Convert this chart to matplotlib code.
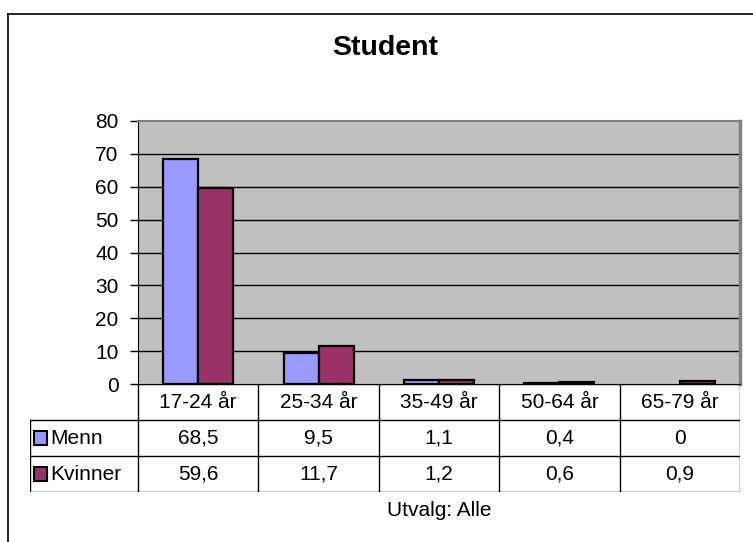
import numpy as np
import matplotlib
matplotlib.use("Agg")
import matplotlib.pyplot as plt
from matplotlib.patches import Rectangle
from matplotlib.lines import Line2D

categories = ["17-24 år", "25-34 år", "35-49 år", "50-64 år", "65-79 år"]
menn = [68.5, 9.5, 1.1, 0.4, 0.0]
kvinner = [59.6, 11.7, 1.2, 0.6, 0.9]
series_names = ["Menn", "Kvinner"]
colors = ["#9999FF", "#993366"]

plt.rcParams["font.family"] = ["Liberation Sans", "DejaVu Sans"]

W, H = 753, 542
fig = plt.figure(figsize=(W / 100, H / 100), dpi=100)


def box(x0, y0, x1, y1):
    # pixel box (top-left origin) -> figure fraction
    return [x0 / W, 1 - y1 / H, (x1 - x0) / W, (y1 - y0) / H]


# outer chart frame (cut off on the right and bottom)
fig.add_artist(Line2D([8 / W, 8 / W], [0, 1 - 14 / H], color="black", lw=1.2))
fig.add_artist(Line2D([8 / W, 1], [1 - 14 / H, 1 - 14 / H], color="black", lw=1.2))

fig.text(385 / W, 1 - 48 / H, "Student", ha="center", va="center",
         fontsize=20.5, fontweight="bold")

FS = 15

# plot area
PL, PR, PT, PB = 138, 740, 121, 384
ax = fig.add_axes(box(PL, PT, PR, PB))
ax.set_facecolor("#C0C0C0")
x = np.arange(len(categories))
w = 0.29
for off, vals, col in [(-w / 2, menn, colors[0]), (w / 2, kvinner, colors[1])]:
    lws = [1.6 if v > 0 else 0 for v in vals]
    ax.bar(x + off, vals, w, color=col, edgecolor="black", linewidth=lws, zorder=3)
ax.set_xlim(-0.5, len(categories) - 0.5)
ax.set_ylim(0, 80)
ax.set_yticks(range(0, 81, 10))
ax.tick_params(axis="y", length=6, width=1, pad=8, labelsize=FS)
ax.set_xticks([])
for v in range(10, 80, 10):
    ax.axhline(v, color="black", lw=1, zorder=1)
ax.spines["left"].set_color("black")
ax.spines["bottom"].set_color("black")
ax.spines["top"].set_color("#808080")
ax.spines["top"].set_linewidth(1.5)
ax.spines["right"].set_color("#808080")
ax.spines["right"].set_linewidth(2.5)

# data table below the plot area
TL, TB = 30, 492
n = len(categories)
colw = (PR - PL) / n
left = -0.5 - (PL - TL) / colw
tax = fig.add_axes(box(TL, PB, PR, TB))
tax.set_xlim(left, n - 0.5)
tax.set_ylim(3, 0)
tax.axis("off")
lk = dict(color="black", lw=1)
tax.plot([-0.5, n - 0.5], [0, 0], **lk)
for r in (1, 2, 3):
    tax.plot([left, n - 0.5], [r, r], **lk)
tax.plot([left, left], [1, 3], **lk)
for i in range(n + 1):
    tax.plot([i - 0.5, i - 0.5], [0, 3], **lk)
for i, c in enumerate(categories):
    tax.text(i, 0.5, c, ha="center", va="center", fontsize=FS)
for r, (name, vals, col) in enumerate(zip(series_names, [menn, kvinner], colors)):
    y = r + 1.5
    key_w = 13 / colw
    kx = left + 4 / colw
    tax.add_patch(Rectangle((kx, y - 0.19), key_w, 0.38, facecolor=col,
                            edgecolor="black", lw=1.5, clip_on=False))
    tax.text(kx + key_w + 3 / colw, y, name, ha="left", va="center", fontsize=FS)
    for i, v in enumerate(vals):
        tax.text(i, y, f"{v:g}".replace(".", ","), ha="center", va="center", fontsize=FS)

fig.text((PL + PR) / 2 / W, 1 - 510 / H, "Utvalg: Alle", ha="center", va="center",
         fontsize=FS)

fig.savefig("out.png", dpi=100)
